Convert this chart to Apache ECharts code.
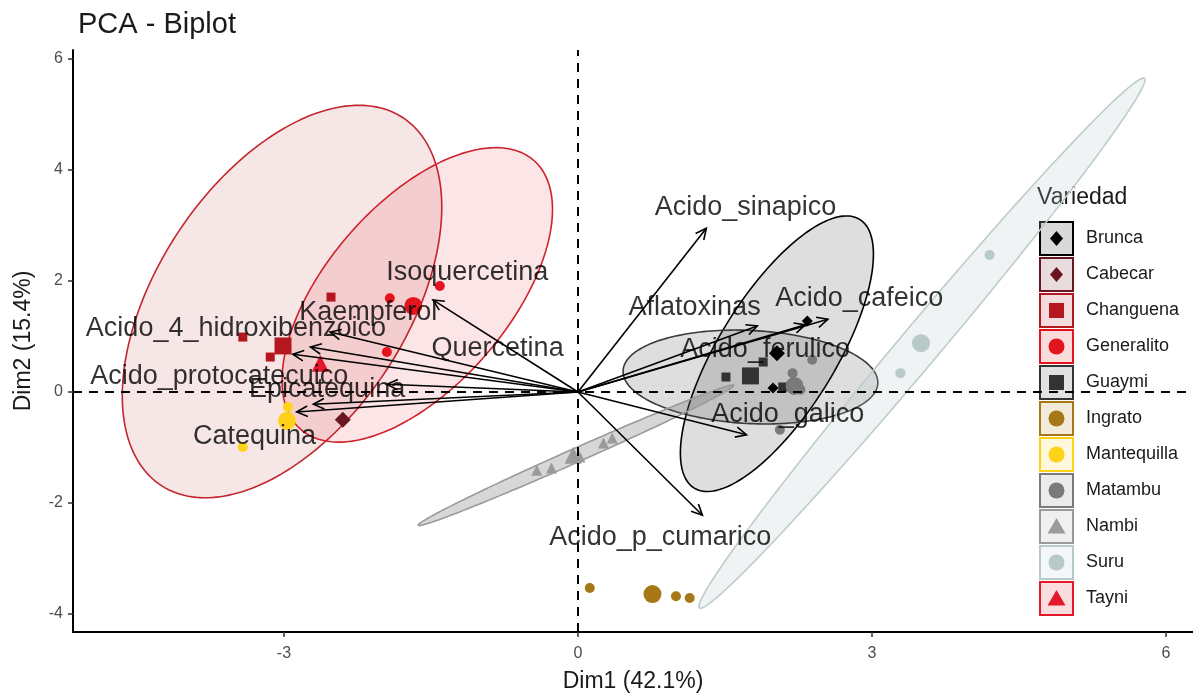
<!DOCTYPE html>
<html>
<head>
<meta charset="utf-8">
<script src="https://cdn.jsdelivr.net/npm/echarts@6/dist/echarts.min.js"></script>
<style>
  html, body { margin: 0; padding: 0; background: #ffffff; }
  #chart { width: 1193px; height: 697px; }
</style>
</head>
<body>
<div id="chart"></div>
<script>
// ---- varieties ----
const groups = ['Brunca', 'Cabecar', 'Changuena', 'Generalito', 'Guaymi', 'Ingrato',
                'Mantequilla', 'Matambu', 'Nambi', 'Suru', 'Tayni'];
const groupColors = ['#000000', '#6B1520', '#B5171F', '#E3141E', '#333333', '#A67816',
                     '#FFD21A', '#7A7A7A', '#9A9A9A', '#B7C9C9', '#E5172A'];
const groupShapes = ['diamond', 'diamond', 'rect', 'circle', 'rect', 'circle',
                     'circle', 'circle', 'triangle', 'circle', 'triangle'];

// ---- individual scores (Dim1, Dim2) per variety ----
const scoresBrunca      = [[2.34, 1.28], [1.99, 0.07]];
const scoresCabecar     = [[-2.40, -0.50]];
const scoresChanguena   = [[-3.42, 0.99], [-2.52, 1.71], [-3.14, 0.63]];
const scoresGeneralito  = [[-1.92, 1.69], [-1.41, 1.91], [-1.95, 0.72]];
const scoresGuaymi      = [[1.51, 0.27], [1.89, 0.54], [2.09, 0.09]];
const scoresIngrato     = [[0.12, -3.53], [1.00, -3.68], [1.14, -3.71]];
const scoresMantequilla = [[-2.96, -0.27], [-3.42, -0.99]];
const scoresMatambu     = [[2.19, 0.34], [2.39, 0.58], [2.06, -0.68], [2.27, 0.04]];
const scoresNambi       = [[-0.42, -1.41], [-0.27, -1.37], [0.02, -1.17], [0.26, -0.92], [0.35, -0.83]];
const scoresSuru        = [[4.20, 2.47], [3.29, 0.34]];
const scoresTayni       = [[-2.63, 0.52]];
const groupScores = [scoresBrunca, scoresCabecar, scoresChanguena, scoresGeneralito, scoresGuaymi,
                     scoresIngrato, scoresMantequilla, scoresMatambu, scoresNambi, scoresSuru, scoresTayni];

// group mean points
const groupMeans = [[2.03, 0.70], [-2.40, -0.50], [-3.01, 0.83], [-1.68, 1.55], [1.76, 0.29],
                    [0.76, -3.64], [-2.97, -0.52], [2.21, 0.11], [-0.05, -1.14], [3.50, 0.88], [-2.63, 0.52]];

// ---- concentration ellipses: centre and two conjugate semi-axes ----
const ellipseGroups  = ['Changuena', 'Generalito', 'Brunca', 'Guaymi', 'Nambi', 'Suru'];
const ellipseCenters = [[-3.02, 1.63], [-1.64, 1.75], [2.03, 0.69], [1.76, 0.27], [-0.02, -1.14], [3.51, 0.88]];
const ellipseAxisA   = [[1.63, 1.70], [1.38, 1.54], [0.985, 1.79], [1.30, -0.10], [1.61, 1.26], [2.27, 4.77]];
const ellipseAxisB   = [[0, 3.10], [0, 2.16], [0, 1.72], [0, 0.84], [0.029, -0.115], [0.156, -0.231]];

// ---- variables (loadings) ----
const variables = ['Acido_sinapico', 'Aflatoxinas', 'Acido_cafeico', 'Acido_ferulico', 'Acido_galico',
                   'Acido_p_cumarico', 'Isoquercetina', 'Kaempferol', 'Quercetina',
                   'Acido_4_hidroxibenzoico', 'Acido_protocatecuico', 'Epicatequina', 'Catequina'];
const loadings = [[1.31, 2.95], [1.83, 1.19], [2.55, 1.31], [2.32, 1.21], [1.72, -0.77],
                  [1.27, -2.22], [-1.48, 1.66], [-2.53, 1.08], [-2.73, 0.81],
                  [-2.91, 0.68], [-2.70, -0.22], [-1.95, 0.14], [-2.87, -0.36]];
const labelAnchors = [[1.71, 3.33], [1.19, 1.53], [2.87, 1.68], [1.91, 0.76], [2.14, -0.41],
                      [0.84, -2.63], [-1.13, 2.16], [-2.14, 1.44], [-0.82, 0.79],
                      [-3.49, 1.15], [-3.66, 0.27], [-2.56, 0.04], [-3.30, -0.81]];

// ---- axes ----
const xTicks = [-3, 0, 3, 6];
const yTicks = [-4, -2, 0, 2, 4, 6];
const xTitle = 'Dim1 (42.1%)';
const yTitle = 'Dim2 (15.4%)';
const chartTitle = 'PCA - Biplot';
const legendTitle = 'Variedad';

const FONT = '"Liberation Sans", Arial, Helvetica, sans-serif';

function hexToRgba(hex, a) {
  const n = parseInt(hex.slice(1), 16);
  return 'rgba(' + ((n >> 16) & 255) + ',' + ((n >> 8) & 255) + ',' + (n & 255) + ',' + a + ')';
}

const ellipseFill = {
  Changuena: 'rgba(181,23,31,0.11)', Generalito: 'rgba(227,20,30,0.11)',
  Brunca: 'rgba(0,0,0,0.13)', Guaymi: 'rgba(51,51,51,0.16)',
  Nambi: 'rgba(110,110,110,0.28)', Suru: 'rgba(183,201,201,0.22)'
};
const ellipseStroke = {
  Changuena: '#C2262E', Generalito: '#D0222B', Brunca: '#000000',
  Guaymi: '#3a3a3a', Nambi: '#9a9a9a', Suru: '#bfcccc'
};

const smallSize = { circle: 10, rect: 9, diamond: 11, triangle: 11 };
const meanSize  = { circle: 18, rect: 17, diamond: 16, triangle: 17 };

const series = [];

// ellipses
series.push({
  type: 'custom',
  z: 2,
  clip: true,
  silent: true,
  data: ellipseCenters.map(function (c) { return c; }),
  encode: { x: 0, y: 1 },
  renderItem: function (params, api) {
    const i = params.dataIndex;
    const c = ellipseCenters[i], a = ellipseAxisA[i], b = ellipseAxisB[i];
    const g = ellipseGroups[i];
    const pts = [];
    const N = 200;
    for (let k = 0; k < N; k++) {
      const t = 2 * Math.PI * k / N;
      pts.push(api.coord([c[0] + a[0] * Math.cos(t) + b[0] * Math.sin(t),
                          c[1] + a[1] * Math.cos(t) + b[1] * Math.sin(t)]));
    }
    return {
      type: 'polygon',
      shape: { points: pts },
      style: { fill: ellipseFill[g], stroke: ellipseStroke[g], lineWidth: 1.6 }
    };
  }
});

// reference lines through the origin
series.push({
  type: 'scatter',
  z: 3,
  data: [],
  markLine: {
    silent: true,
    symbol: ['none', 'none'],
    label: { show: false },
    lineStyle: { color: '#000000', width: 2, type: [9, 7] },
    data: [{ xAxis: 0 }, { yAxis: 0 }]
  }
});

// individuals
groups.forEach(function (g, i) {
  const shape = groupShapes[i];
  const items = groupScores[i].map(function (p) {
    return { value: p, symbolSize: smallSize[shape] };
  });
  items.push({ value: groupMeans[i], symbolSize: meanSize[shape] });
  series.push({
    type: 'scatter',
    name: g,
    z: 4,
    symbol: shape,
    itemStyle: { color: groupColors[i], opacity: 1 },
    data: items,
    silent: true
  });
});

// variable arrows
series.push({
  type: 'custom',
  z: 6,
  clip: false,
  silent: true,
  data: loadings.map(function (p, i) { return { value: p, name: variables[i] }; }),
  encode: { x: 0, y: 1 },
  renderItem: function (params, api) {
    const o = api.coord([0, 0]);
    const t = api.coord([api.value(0), api.value(1)]);
    const ang = Math.atan2(t[1] - o[1], t[0] - o[0]);
    const L = 12, w = Math.PI / 7;
    const h1 = [t[0] - L * Math.cos(ang - w), t[1] - L * Math.sin(ang - w)];
    const h2 = [t[0] - L * Math.cos(ang + w), t[1] - L * Math.sin(ang + w)];
    return {
      type: 'group',
      children: [
        { type: 'line', shape: { x1: o[0], y1: o[1], x2: t[0], y2: t[1] },
          style: { stroke: '#000000', lineWidth: 1.6 } },
        { type: 'polyline', shape: { points: [h1, t, h2] },
          style: { stroke: '#000000', lineWidth: 1.6, fill: null } }
      ]
    };
  }
});

// variable names
series.push({
  type: 'scatter',
  z: 8,
  silent: true,
  symbolSize: 0,
  data: labelAnchors.map(function (p, i) { return { value: p, name: variables[i] }; }),
  label: {
    show: true,
    position: 'inside',
    formatter: '{b}',
    fontSize: 27,
    fontFamily: FONT,
    color: '#000000'
  },
  labelLayout: { hideOverlap: false }
});

// legend drawn as graphic elements
const legendItems = [{
  type: 'text', x: 1037, y: 198, z: 1,
  style: { text: legendTitle, fontSize: 23, fontFamily: FONT, fill: '#1a1a1a', verticalAlign: 'middle' }
}];
groups.forEach(function (g, i) {
  const top = 222 + i * 36;
  const cx = 1056.5, cy = top + 16.5;
  const col = groupColors[i];
  legendItems.push({
    type: 'rect', z: 1,
    shape: { x: 1040, y: top, width: 33, height: 33 },
    style: { fill: hexToRgba(col, 0.15), stroke: col, lineWidth: 2 }
  });
  const shape = groupShapes[i];
  let sym;
  if (shape === 'circle') {
    sym = { type: 'circle', shape: { cx: cx, cy: cy, r: 8 } };
  } else if (shape === 'rect') {
    sym = { type: 'rect', shape: { x: cx - 7.5, y: cy - 7.5, width: 15, height: 15 } };
  } else if (shape === 'diamond') {
    sym = { type: 'polygon', shape: { points: [[cx, cy - 7.5], [cx + 6.5, cy], [cx, cy + 7.5], [cx - 6.5, cy]] } };
  } else {
    sym = { type: 'polygon', shape: { points: [[cx, cy - 8.5], [cx + 9, cy + 7], [cx - 9, cy + 7]] } };
  }
  sym.z = 1;
  sym.style = { fill: col };
  legendItems.push(sym);
  legendItems.push({
    type: 'text', x: 1086, y: cy, z: 1,
    style: { text: g, fontSize: 18, fontFamily: FONT, fill: '#1a1a1a', verticalAlign: 'middle' }
  });
});

const chart = echarts.init(document.getElementById('chart'), null, { renderer: 'canvas' });
chart.setOption({
  backgroundColor: '#ffffff',
  animation: false,
  title: {
    text: chartTitle,
    left: 73,
    top: 5,
    textStyle: { fontSize: 29, fontWeight: 'normal', fontFamily: FONT, color: '#1a1a1a' }
  },
  grid: { left: 73, right: 0, top: 50, bottom: 65, containLabel: false, outerBoundsMode: 'none' },
  xAxis: {
    type: 'value',
    min: -5.153, max: 6.276,
    name: xTitle,
    nameLocation: 'middle',
    nameGap: 38,
    nameTextStyle: { fontSize: 23, fontFamily: FONT, color: '#1a1a1a' },
    splitLine: { show: false },
    axisLine: { show: true, onZero: false, lineStyle: { color: '#000000', width: 2 } },
    axisTick: { show: true, length: 5, customValues: xTicks, lineStyle: { color: '#333333', width: 1.5 } },
    axisLabel: { customValues: xTicks, fontSize: 16, fontFamily: FONT, color: '#4d4d4d', margin: 14 }
  },
  yAxis: {
    type: 'value',
    min: -4.324, max: 6.162,
    name: yTitle,
    nameLocation: 'middle',
    nameGap: 38,
    nameTextStyle: { fontSize: 23, fontFamily: FONT, color: '#1a1a1a' },
    splitLine: { show: false },
    axisLine: { show: true, onZero: false, lineStyle: { color: '#000000', width: 2 } },
    axisTick: { show: true, length: 5, customValues: yTicks, lineStyle: { color: '#333333', width: 1.5 } },
    axisLabel: { customValues: yTicks, fontSize: 16, fontFamily: FONT, color: '#4d4d4d', margin: 10 }
  },
  graphic: legendItems,
  series: series
});
</script>
</body>
</html>
